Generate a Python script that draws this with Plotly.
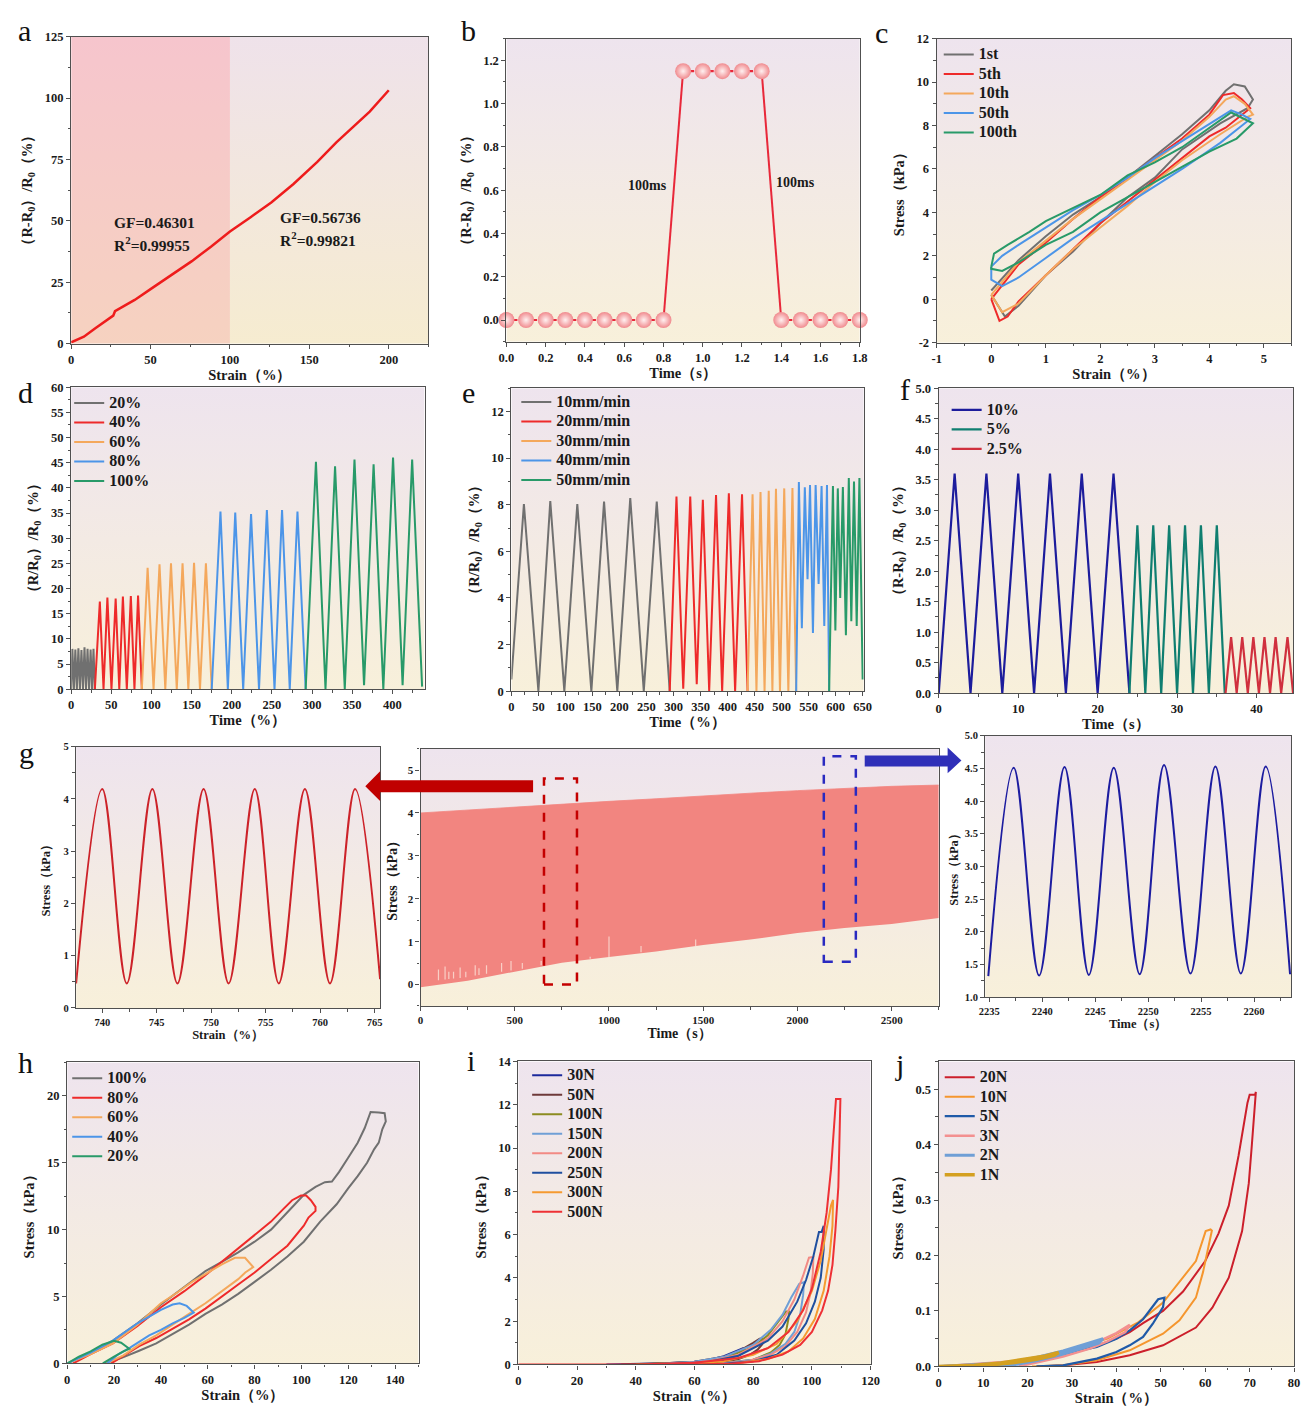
import plotly.graph_objects as go

W, H = 1308, 1413
SERIF = "Liberation Serif"
INK = "#1a1a1a"
FRAME = "#505050"

GRAY, RED, ORANGE, BLUE, GREEN = "#707070", "#ee2a2a", "#f4a85c", "#4c95e8", "#289a69"
TOP_BG, BOT_BG = "#eee4ee", "#f8f0da"

# ---------------- panel a ----------------
a_strain = [0, 3, 8, 15, 22, 26.5, 27.6, 35, 40, 50, 60, 76, 88, 100, 113, 126, 140, 155, 167, 178, 188, 200]
a_resp = [0.5, 1.3, 2.8, 6.2, 9.6, 11.4, 13.2, 16.0, 17.8, 22.2, 26.6, 33.6, 39.5, 45.7, 51.5, 57.5, 65.0, 74.0, 82.0, 88.5, 94.5, 103.2]
a_split = 100

# ---------------- panel b ----------------
b_time = [0.0, 0.1, 0.2, 0.3, 0.4, 0.5, 0.6, 0.7, 0.8, 0.9, 1.0, 1.1, 1.2, 1.3, 1.4, 1.5, 1.6, 1.7, 1.8]
b_resp = [0, 0, 0, 0, 0, 0, 0, 0, 0, 1.15, 1.15, 1.15, 1.15, 1.15, 0, 0, 0, 0, 0]

# ---------------- panel c ----------------
c_names = ["1st", "5th", "10th", "50th", "100th"]
c_xticks = [-1, 0, 1, 2, 3, 4, 5]
c_xlabels = ["-1", "0", "1", "2", "3", "4", "5"]
c_yticks = [-2, 0, 2, 4, 6, 8, 10, 12]
c_ylabels = ["-2", "0", "2", "4", "6", "8", "10", "12"]
c_1st_x = [0, 0.5, 1.0, 1.5, 2.0, 2.5, 3.0, 3.5, 4.0, 4.3, 4.45, 4.65, 4.8, 4.7, 4.2, 3.5, 3.0, 2.5, 2.0, 1.5, 1.0, 0.5, 0.25, 0.0]
c_1st_y = [0.4, 1.8, 2.9, 3.9, 4.7, 5.6, 6.6, 7.6, 8.7, 9.6, 9.9, 9.8, 9.2, 8.8, 8.1, 6.9, 5.6, 4.7, 3.5, 2.2, 1.1, -0.3, -0.8, 0.2]
c_5th_x = [0, 0.5, 1.0, 1.5, 2.0, 2.5, 3.0, 3.5, 4.0, 4.25, 4.45, 4.6, 4.75, 4.65, 4.3, 4.0, 3.5, 3.0, 2.5, 2.0, 1.5, 1.0, 0.5, 0.3, 0.15, 0.0]
c_5th_y = [0.0, 1.6, 2.6, 3.7, 4.7, 5.6, 6.5, 7.4, 8.5, 9.4, 9.5, 9.2, 8.8, 8.6, 7.9, 7.5, 6.5, 5.5, 4.5, 3.5, 2.3, 1.1, -0.1, -0.8, -1.0, 0.0]
c_10th_x = [0, 0.5, 1.0, 1.5, 2.0, 2.5, 3.0, 3.5, 4.0, 4.3, 4.45, 4.65, 4.8, 4.7, 4.2, 3.5, 3.0, 2.5, 2.0, 1.5, 1.0, 0.5, 0.2, 0.0]
c_10th_y = [0.2, 1.7, 2.7, 3.7, 4.6, 5.5, 6.4, 7.3, 8.4, 9.2, 9.35, 9.0, 8.5, 8.4, 7.6, 6.4, 5.4, 4.3, 3.3, 2.3, 1.1, -0.2, -0.6, 0.2]
c_50th_x = [0, 0.2, 0.5, 1.0, 1.5, 2.0, 2.5, 3.0, 3.5, 4.0, 4.4, 4.6, 4.75, 4.6, 4.2, 3.5, 3.0, 2.5, 2.0, 1.5, 1.0, 0.5, 0.2, 0.0, 0.0]
c_50th_y = [1.5, 2.0, 2.5, 3.3, 4.1, 4.8, 5.6, 6.5, 7.3, 8.1, 8.7, 8.5, 8.3, 8.0, 7.2, 6.0, 5.2, 4.4, 3.6, 2.8, 1.9, 1.0, 0.6, 0.9, 1.5]
c_100th_x = [0, 0.05, 0.3, 0.7, 1.0, 1.5, 2.0, 2.5, 3.0, 3.5, 4.0, 4.4, 4.8, 4.5, 4.0, 3.5, 3.0, 2.5, 2.0, 1.5, 1.0, 0.5, 0.2, 0.0, 0.0]
c_100th_y = [1.5, 2.1, 2.5, 3.1, 3.6, 4.2, 4.8, 5.7, 6.3, 7.0, 7.9, 8.6, 8.1, 7.4, 6.8, 6.1, 5.4, 4.7, 4.0, 3.1, 2.5, 1.7, 1.3, 1.4, 1.5]

# ---------------- panel d ----------------
d_names = ["20%", "40%", "60%", "80%", "100%"]
d20_t = [0, 1.5, 3.4, 5.2, 7.1, 9.0, 10.9, 12.8, 14.7, 16.6, 18.5, 20.4, 22.3, 24.2, 26.0, 27.8, 29.5]
d20_v = [0, 8.0, 0, 7.9, 0, 8.1, 0, 7.8, 0, 8.3, 0, 8.0, 0, 7.9, 0, 8.0, 0]
d40_t = [29.5, 35.7, 40.3, 45.1, 50.2, 55.4, 59.9, 64.4, 69.3, 74.3, 78.8, 83.3, 88]
d40_v = [0, 17.4, 0, 18.2, 0, 18.0, 0, 18.4, 0, 18.5, 0, 18.6, 0]
d60_t = [88, 95.2, 102.6, 110, 117.2, 124.3, 131.5, 138.7, 145.9, 153, 160.4, 167.8, 175]
d60_v = [0, 24.1, 0, 24.8, 0, 25.0, 0, 25.0, 0, 25.1, 0, 25.0, 0]
d80_t = [175, 185.9, 195.1, 204.3, 214.2, 224, 233.9, 243.7, 253.2, 262.6, 272.2, 281.8, 292]
d80_v = [0, 35.3, 0, 35.1, 0, 34.8, 0, 35.6, 0, 35.6, 0, 35.3, 0]
d100_t = [292, 304.8, 316.7, 328.6, 340.7, 352.8, 364.7, 376.6, 388.7, 400.8, 412.7, 424.6, 437]
d100_v = [0, 45.2, 0, 44.3, 0, 45.6, 0.8, 44.7, 0, 46.0, 0.8, 45.6, 0.5]

# ---------------- panel e ----------------
e_names = ["10mm/min", "20mm/min", "30mm/min", "40mm/min", "50mm/min"]
e10_t = [0, 23.2, 50, 72, 98, 122, 148, 171.5, 196, 220, 245, 269, 293]
e10_v = [0.5, 8.03, 0, 8.16, 0, 8.03, 0, 8.14, 0, 8.28, 0, 8.14, 0]
e20_t = [293, 305.5, 318, 331, 343, 354.3, 366, 378.7, 390, 402.4, 414, 426.8, 437]
e20_v = [0, 8.35, 0.1, 8.35, 0.3, 8.21, 0, 8.42, 0, 8.49, 0, 8.45, 0]
e30_t = [437, 446.3, 453.5, 461, 468.5, 476.2, 483, 489.6, 497, 504.9, 512.5, 520.1, 527]
e30_v = [0, 8.45, 0, 8.55, 0, 8.6, 0, 8.68, 0, 8.7, 0, 8.72, 0]
e40_t = [527, 532, 537.5, 543, 548, 552.6, 558, 563, 568.5, 574, 579, 584, 588]
e40_v = [0, 8.97, 2.7, 8.75, 4.8, 8.84, 2.5, 8.84, 4.6, 8.8, 2.8, 8.84, 0]
e50_t = [588, 595, 599.5, 604, 608.5, 613.4, 619, 624.4, 629, 634, 639, 644, 650]
e50_v = [0, 8.8, 2.6, 8.7, 4.0, 8.76, 2.4, 9.15, 3.0, 9.0, 2.8, 9.15, 0.5]

# ---------------- panel f ----------------
f_names = ["10%", "5%", "2.5%"]
f10_t = [0, 2, 4, 6, 8, 10, 12, 14, 16, 18, 20, 22, 24]
f10_v = [0, 3.6, 0, 3.6, 0, 3.6, 0, 3.6, 0, 3.6, 0, 3.6, 0]
f5_t = [24, 25, 26, 27, 28, 29, 30, 31, 32, 33, 34, 35, 36]
f5_v = [0, 2.75, 0, 2.75, 0, 2.75, 0, 2.75, 0, 2.75, 0, 2.75, 0]
f25_t = [36.1, 36.8, 37.5, 38.2, 38.9, 39.6, 40.3, 41.0, 41.7, 42.4, 43.1, 43.9, 44.6]
f25_v = [0, 0.92, 0, 0.92, 0, 0.92, 0, 0.92, 0, 0.92, 0, 0.92, 0]

# ---------------- panel g ----------------
gL_strain = [737.6, 740.0, 742.25, 744.6, 746.9, 749.3, 751.6, 754.0, 756.2, 758.6, 760.9, 763.2, 765.5]
gL_stress = [0.47, 4.19, 0.47, 4.19, 0.47, 4.19, 0.47, 4.19, 0.47, 4.19, 0.47, 4.19, 0.55]
gM_time = [0, 250, 500, 750, 1000, 1250, 1500, 1750, 2000, 2250, 2500, 2750]
gM_upper = [4.0, 4.07, 4.14, 4.2, 4.27, 4.33, 4.4, 4.46, 4.52, 4.57, 4.62, 4.65]
gM_lower = [-0.06, 0.09, 0.3, 0.51, 0.64, 0.77, 0.92, 1.05, 1.2, 1.32, 1.41, 1.55]
gM_spike_t = [95, 130, 150, 175, 210, 240, 290, 310, 350, 430, 480, 540, 640, 900, 1000, 1170, 1460]
gM_spike_lo = [0.1, 0.12, 0.13, 0.14, 0.15, 0.17, 0.21, 0.22, 0.25, 0.3, 0.33, 0.37, 0.45, 0.6, 0.64, 0.75, 0.9]
gM_spike_hi = [0.35, 0.42, 0.3, 0.3, 0.4, 0.3, 0.45, 0.38, 0.45, 0.5, 0.55, 0.5, 0.55, 0.65, 1.12, 0.9, 1.05]
gR_time = [2234.9, 2237.3, 2239.7, 2242.1, 2244.4, 2246.75, 2249.2, 2251.5, 2254.0, 2256.35, 2258.75, 2261.1, 2263.4]
gR_stress = [1.32, 4.51, 1.33, 4.52, 1.34, 4.51, 1.35, 4.55, 1.36, 4.53, 1.36, 4.53, 1.35]

# ---------------- panel h ----------------
h_names = ["100%", "80%", "60%", "40%", "20%"]
h100_x = [0, 10, 19.5, 30, 40, 50, 59, 66, 73, 80, 87, 94, 101, 106, 110, 113, 116, 120, 124, 127, 129.5, 133, 135.5, 136, 134.5, 133, 131, 128, 124, 120, 115, 108, 101, 94, 87, 80, 73, 66, 59, 52, 45, 38, 30.7, 23, 16]
h100_y = [0, 0.8, 1.7, 3.0, 4.4, 5.7, 6.9, 7.6, 8.3, 9.1, 10.0, 11.3, 12.6, 13.2, 13.55, 13.6, 14.3, 15.4, 16.5, 17.6, 18.8, 18.75, 18.7, 18.1, 17.5, 16.5, 16.0, 15.0, 14.0, 13.1, 11.9, 10.6, 9.1, 8.0, 7.0, 6.1, 5.2, 4.4, 3.7, 2.9, 2.2, 1.5, 0.95, 0.4, 0]
h80_x = [2.5, 10, 19.5, 30, 40, 50, 59, 66, 73, 80, 87, 92, 96, 99.8, 102, 104, 106, 106, 103, 101, 94, 87, 80, 73, 66, 59, 52, 45, 38, 30.7, 25, 18.8]
h80_y = [0, 0.7, 1.5, 2.8, 4.2, 5.4, 6.6, 7.6, 8.6, 9.6, 10.6, 11.5, 12.2, 12.55, 12.55, 12.2, 11.7, 11.4, 10.9, 10.3, 8.8, 7.8, 6.8, 5.9, 5.0, 4.1, 3.3, 2.6, 1.9, 1.3, 0.7, 0]
h60_x = [0, 10, 19.5, 30, 40, 47, 53.3, 60, 66, 71.6, 75.9, 79.4, 76, 73, 66, 59, 52, 45, 38, 30.7, 24, 16.6]
h60_y = [0, 0.7, 1.5, 2.9, 4.5, 5.3, 6.1, 6.8, 7.4, 7.9, 7.9, 7.2, 6.8, 6.3, 5.4, 4.5, 3.7, 2.9, 2.1, 1.4, 0.6, 0]
h40_x = [0, 10, 19.5, 30, 40, 45, 48, 51, 54, 50, 45, 40, 35, 30, 27, 22, 17]
h40_y = [0, 0.8, 1.7, 3.0, 4.0, 4.4, 4.5, 4.3, 3.8, 3.4, 3.0, 2.5, 2.1, 1.5, 1.2, 0.7, 0]
h20_x = [0, 5, 10, 15, 20, 23, 26.5, 24, 20, 15.2]
h20_y = [0, 0.5, 0.9, 1.4, 1.7, 1.55, 1.1, 0.9, 0.5, 0]

# ---------------- panel i ----------------
i_names = ["30N", "50N", "100N", "150N", "200N", "250N", "300N", "500N"]
i30_x = [30, 40, 50, 60, 65, 70, 73, 75.5, 76.5, 77, 75.5, 73, 70, 65, 60, 50, 40]
i30_y = [0, 0.02, 0.05, 0.12, 0.2, 0.38, 0.55, 0.72, 0.75, 0.62, 0.45, 0.3, 0.18, 0.09, 0.05, 0.01, 0]
i50_x = [35, 50, 60, 70, 75, 78, 80, 82.2, 83.2, 83.5, 81.5, 79, 75, 70, 60, 50]
i50_y = [0, 0.05, 0.12, 0.35, 0.6, 0.82, 1.0, 1.19, 1.2, 1.0, 0.68, 0.45, 0.25, 0.12, 0.04, 0]
i100_x = [40, 60, 70, 80, 85, 88, 90, 91.2, 92.2, 92, 91, 89, 86, 80, 70, 60]
i100_y = [0, 0.1, 0.3, 0.8, 1.35, 1.9, 2.25, 2.45, 2.45, 2.1, 1.4, 0.9, 0.55, 0.22, 0.06, 0]
i150_x = [45, 60, 70, 80, 86, 90, 93, 95.7, 97.3, 97, 96, 94, 91, 86, 80, 70]
i150_y = [0, 0.12, 0.35, 0.9, 1.6, 2.3, 3.1, 3.72, 3.8, 3.2, 2.3, 1.5, 0.95, 0.5, 0.22, 0.05]
i200_x = [50, 65, 75, 85, 90, 94, 97, 99, 100.5, 100.3, 99.5, 98, 95, 91, 86, 78, 68]
i200_y = [0, 0.15, 0.45, 1.2, 2.0, 3.0, 4.1, 4.93, 4.97, 4.2, 3.3, 2.4, 1.5, 0.85, 0.45, 0.15, 0.03]
i250_x = [50, 65, 75, 85, 90, 95, 98, 100.5, 102.4, 103.3, 104, 104, 103, 101, 98, 94, 88, 80, 70]
i250_y = [0, 0.12, 0.4, 1.1, 1.75, 2.9, 3.9, 5.0, 6.12, 6.12, 6.4, 5.3, 4.0, 2.9, 1.9, 1.1, 0.45, 0.15, 0.03]
i300_x = [55, 70, 80, 88, 95, 100, 103, 105, 106.5, 107.2, 107, 106, 104, 101, 97, 92, 85, 75]
i300_y = [0, 0.15, 0.45, 0.95, 2.0, 3.4, 4.8, 6.2, 7.34, 7.6, 6.4, 5.0, 3.4, 2.1, 1.2, 0.6, 0.25, 0.05]
i500_x = [0, 40, 60, 75, 85, 92, 97, 100, 103, 105, 106.5, 107.5, 108.2, 109.7, 109.5, 109, 108, 107, 105.5, 103.5, 100, 96, 90, 82, 72, 60]
i500_y = [0, 0, 0.08, 0.3, 0.75, 1.5, 2.5, 3.5, 5.2, 7.0, 9.0, 10.8, 12.27, 12.27, 10.5, 8.2, 6.2, 4.6, 3.4, 2.5, 1.5, 0.9, 0.45, 0.15, 0.03, 0]

# ---------------- panel j ----------------
j_names = ["20N", "10N", "5N", "3N", "2N", "1N"]
j20_x = [0, 10, 20, 30, 35.6, 40, 43, 46, 50.5, 55, 60, 63, 65.3, 67.5, 69.5, 70, 71.2, 71.4, 70.5, 69.8, 68.3, 65.3, 61.6, 57.9, 50.5, 43, 35.6, 28.2, 22.3]
j20_y = [0, 0.003, 0.012, 0.026, 0.038, 0.05, 0.062, 0.078, 0.1, 0.135, 0.19, 0.24, 0.29, 0.38, 0.475, 0.49, 0.49, 0.495, 0.4, 0.33, 0.244, 0.16, 0.106, 0.07, 0.038, 0.02, 0.008, 0.002, 0]
j10_x = [0, 10, 20, 30, 38, 45, 50.5, 55, 57.9, 60.1, 61.2, 61.5, 60.5, 59.5, 57.9, 54.2, 50.5, 43, 35.6, 28, 21]
j10_y = [0, 0.003, 0.012, 0.03, 0.05, 0.08, 0.115, 0.16, 0.19, 0.244, 0.247, 0.245, 0.208, 0.17, 0.124, 0.083, 0.059, 0.029, 0.011, 0.002, 0]
j5_x = [0, 10, 20, 28, 35.6, 40, 43, 46, 49.4, 50.8, 50.5, 48.2, 46, 43, 40, 35.6, 28, 22]
j5_y = [0, 0.003, 0.011, 0.022, 0.035, 0.05, 0.065, 0.085, 0.121, 0.124, 0.107, 0.077, 0.053, 0.038, 0.026, 0.014, 0.002, 0]
j3_x = [0, 20, 30, 36, 40, 43, 42, 38, 34, 28, 22, 18]
j3_y = [0, 0.011, 0.028, 0.045, 0.06, 0.075, 0.062, 0.045, 0.032, 0.018, 0.007, 0]
j2_x = [0, 15, 22, 28, 33, 37, 36, 32, 27, 22, 17, 12]
j2_y = [0, 0.006, 0.016, 0.028, 0.04, 0.05, 0.042, 0.032, 0.02, 0.01, 0.003, 0]
j1_x = [0, 8, 14, 20, 24, 27, 26, 22, 17, 12, 6]
j1_y = [0, 0.002, 0.006, 0.013, 0.019, 0.025, 0.02, 0.013, 0.007, 0.003, 0]

# =============================================================
fig = go.Figure()
LEG_TEXT = 16   # visible size of legend labels


def sfx(n):
    return "" if n == 1 else str(n)


def clamp(v):
    return min(1.0, max(0.0, v))


def px2dom(x0, x1, y0, y1):
    return [clamp(x0 / W), clamp(x1 / W)], [clamp(1 - y1 / H), clamp(1 - y0 / H)]


def P(x, y):
    return x / W, 1 - y / H


def add_axes(n, box, xr, yr, xdt, ydt, xtitle, ytitle, xfmt="", yfmt="",
             tfs=12.5, ttfs=14.5, xstand=0, ystand=6, xtick0=0, ytick0=0, xextra=None, yextra=None):
    xd, yd = px2dom(*box)
    s = sfx(n)
    tickfont = dict(family=SERIF, size=tfs, color=INK, weight="bold")
    titlefont = dict(family=SERIF, size=ttfs, color=INK, weight="bold")
    base = dict(showline=True, mirror=True, linecolor=FRAME, linewidth=1.3,
                ticks="outside", ticklen=4, tickwidth=1.1, tickcolor=FRAME,
                showgrid=False, zeroline=False, tickfont=tickfont, fixedrange=True)
    xa = dict(base, domain=xd, range=xr, dtick=xdt, tick0=xtick0, tickformat=xfmt,
              anchor="y" + s,
              minor=dict(ticks="outside", ticklen=2.5, tickcolor=FRAME, dtick=xdt / 2,
                         tick0=xtick0, showgrid=False),
              title=dict(text=xtitle, font=titlefont, standoff=xstand))
    ya = dict(base, domain=yd, range=yr, dtick=ydt, tick0=ytick0, tickformat=yfmt,
              anchor="x" + s,
              minor=dict(ticks="outside", ticklen=2.5, tickcolor=FRAME, dtick=ydt / 2,
                         tick0=ytick0, showgrid=False),
              title=dict(text=ytitle, font=titlefont, standoff=ystand))
    if xextra:
        xa.update(xextra)
    if yextra:
        ya.update(yextra)
    fig.update_layout(**{"xaxis" + s: xa, "yaxis" + s: ya})


def add_bg(n, xr, yr, top=TOP_BG, bottom=BOT_BG):
    s = sfx(n)
    fig.add_trace(go.Scatter(
        x=[xr[0], xr[1], xr[1], xr[0], xr[0]], y=[yr[0], yr[0], yr[1], yr[1], yr[0]],
        mode="lines", line=dict(width=0), fill="toself", fillcolor=bottom,
        fillgradient=dict(type="vertical", colorscale=[[0, bottom], [1, top]], start=yr[0], stop=yr[1]),
        hoverinfo="skip", showlegend=False, xaxis="x" + s, yaxis="y" + s))


def line(n, x, y, color, name=None, legend=None, width=2, dash="solid", shape="linear"):
    s = sfx(n)
    label = None if name is None else f'<span style="font-size:{LEG_TEXT}px">{name}</span>'
    fig.add_trace(go.Scatter(
        x=x, y=y, mode="lines", name=label, line=dict(color=color, width=width, dash=dash, shape=shape),
        showlegend=name is not None, legend=legend, xaxis="x" + s, yaxis="y" + s, hoverinfo="skip"))


def legend_cfg(xpx, ypx):
    x, y = P(xpx, ypx)
    return dict(x=x, y=y, xanchor="left", yanchor="top", bgcolor="rgba(0,0,0,0)",
                borderwidth=0, font=dict(family=SERIF, size=12.7, color=INK, weight="bold"),
                tracegroupgap=0, itemwidth=30, traceorder="normal")


Y_RR = "（R-R<sub>0</sub>）/R<sub>0</sub>（%）"
Y_RD = "（R/R<sub>0</sub>）/R<sub>0</sub>（%）"
Y_ST = "Stress（kPa）"

# ---------------- axes ----------------
A_X, A_Y = [0, 225], [0, 125]
add_axes(1, (64, 426, 30, 340), A_X, A_Y, 50, 25, "Strain（%）", Y_RR, ystand=8)
B_X, B_Y = [0, 1.8], [-0.1, 1.3]
add_axes(2, (505, 863, 32, 338), B_X, B_Y, 0.2, 0.2, "Time（s）", Y_RR, xfmt=".1f", yfmt=".1f", ystand=8)
C_X, C_Y = [-1, 5.5], [-2, 12]
add_axes(3, (941, 1300, 32, 339), C_X, C_Y, 1, 2, "Strain（%）", Y_ST, xtick0=-1, ytick0=-2, ystand=8,
         xextra=dict(tickvals=c_xticks, ticktext=c_xlabels),
         yextra=dict(tickvals=c_yticks, ticktext=c_ylabels))
D_X, D_Y = [0, 440], [0, 60]
add_axes(4, (64, 422, 384, 689), D_X, D_Y, 50, 5, "Time（%）", Y_RD, ystand=8)
E_X, E_Y = [0, 652], [0, 13]
add_axes(5, (510, 867, 385, 691), E_X, E_Y, 50, 2, "Time（%）", Y_RD, ystand=8)
F_X, F_Y = [0, 44.6], [0, 5]
add_axes(6, (943, 1302, 385, 693), F_X, F_Y, 10, 0.5, "Time（s）", Y_RR, yfmt=".1f", ystand=8)
GL_X, GL_Y = [737.6, 765.5], [0, 5]
add_axes(7, (69, 377, 747, 1011), GL_X, GL_Y, 5, 1, "Strain（%）", Y_ST, tfs=10.5, ttfs=12.5, ystand=10)
GM_X, GM_Y = [0, 2750], [-0.5, 5.5]
add_axes(8, (418, 943, 749, 1009), GM_X, GM_Y, 500, 1, "Time（s）", Y_ST, tfs=11, ttfs=14, ystand=6)
GR_X, GR_Y = [2234.6, 2263.5], [1.0, 5.0]
add_axes(9, (990, 1300, 736, 1000), GR_X, GR_Y, 5, 0.5, "Time（s）", Y_ST, yfmt=".1f", tfs=10.5, ttfs=12.5, ystand=3)
H_X, H_Y = [0, 150], [0, 22.5]
add_axes(10, (60, 416, 1066, 1370), H_X, H_Y, 20, 5, "Strain（%）", Y_ST, ystand=8)
I_X, I_Y = [0, 120], [0, 14]
add_axes(11, (517, 874, 1065, 1371), I_X, I_Y, 20, 2, "Strain（%）", Y_ST, ystand=8)
J_X, J_Y = [0, 80], [0, 0.55]
add_axes(12, (943, 1303, 1065, 1373), J_X, J_Y, 10, 0.1, "Strain（%）", Y_ST, yfmt=".1f", ystand=8)

# ---------------- backgrounds ----------------
add_bg(1, [A_X[0], a_split], A_Y, top="#f6c5cd", bottom="#f6d2c0")
add_bg(1, [a_split, A_X[1]], A_Y, top="#efe2ea", bottom="#f6ecd0")
for n, xr, yr in [(2, B_X, B_Y), (3, C_X, C_Y), (4, D_X, D_Y), (5, E_X, E_Y), (6, F_X, F_Y),
                  (7, GL_X, GL_Y), (8, GM_X, GM_Y), (9, GR_X, GR_Y), (10, H_X, H_Y),
                  (11, I_X, I_Y), (12, J_X, J_Y)]:
    add_bg(n, xr, yr)

# ---------------- panel a ----------------
line(1, a_strain, a_resp, "#ee1c1c", width=2.5)

# ---------------- panel b ----------------
dx, dy, sx, sy = [], [], [], []
for k in range(len(b_time) - 1):
    seg_x = [b_time[k], b_time[k + 1], None]
    seg_y = [b_resp[k], b_resp[k + 1], None]
    if b_resp[k] == b_resp[k + 1]:
        dx += seg_x; dy += seg_y
    else:
        sx += seg_x; sy += seg_y
line(2, sx, sy, "#e8283a", width=2)
line(2, dx, dy, "#e8283a", width=2.2, dash="4px,3px")
fig.add_trace(go.Scatter(x=b_time, y=b_resp, mode="markers", cliponaxis=False,
                         marker=dict(size=16, color="#f08a8e", line=dict(width=0),
                                     gradient=dict(type="radial", color="#fff0f0")),
                         showlegend=False, xaxis="x2", yaxis="y2", hoverinfo="skip"))

# ---------------- panel c ----------------
for nm, x, y, col in zip(c_names, [c_1st_x, c_5th_x, c_10th_x, c_50th_x, c_100th_x],
                         [c_1st_y, c_5th_y, c_10th_y, c_50th_y, c_100th_y],
                         [GRAY, RED, ORANGE, BLUE, GREEN]):
    line(3, x, y, col, name=nm, legend="legend")

# ---------------- panel d ----------------
for nm, x, y, col in zip(d_names, [d20_t, d40_t, d60_t, d80_t, d100_t],
                         [d20_v, d40_v, d60_v, d80_v, d100_v], [GRAY, RED, ORANGE, BLUE, GREEN]):
    line(4, x, y, col, name=nm, legend="legend2")

# ---------------- panel e ----------------
for nm, x, y, col in zip(e_names, [e10_t, e20_t, e30_t, e40_t, e50_t],
                         [e10_v, e20_v, e30_v, e40_v, e50_v], [GRAY, RED, ORANGE, BLUE, GREEN]):
    line(5, x, y, col, name=nm, legend="legend3")

# ---------------- panel f ----------------
for nm, x, y, col in zip(f_names, [f10_t, f5_t, f25_t], [f10_v, f5_v, f25_v],
                         ["#1c1c9c", "#0f7e70", "#d0303e"]):
    line(6, x, y, col, name=nm, legend="legend4", width=2.2)

# ---------------- panel g ----------------
line(7, gL_strain, gL_stress, "#cc2229", width=2, shape="spline")
fig.add_trace(go.Scatter(x=gM_time, y=gM_lower, mode="lines", line=dict(width=0, color="#f28580"),
                         showlegend=False, xaxis="x8", yaxis="y8", hoverinfo="skip"))
fig.add_trace(go.Scatter(x=gM_time, y=gM_upper, mode="lines", line=dict(width=0.8, color="#f28580"),
                         fill="tonexty", fillcolor="#f28580",
                         showlegend=False, xaxis="x8", yaxis="y8", hoverinfo="skip"))
spx, spy = [], []
for t, lo, hi in zip(gM_spike_t, gM_spike_lo, gM_spike_hi):
    spx += [t, t, None]; spy += [lo, hi, None]
line(8, spx, spy, "#f9cfc6", width=1.2)
line(9, gR_time, gR_stress, "#1c1ca0", width=2, shape="spline")

# dashed selection boxes
fig.add_shape(type="rect", xref="x8", yref="y8", x0=655, x1=830, y0=0.0, y1=4.8,
              line=dict(color="#c40000", width=2.5, dash="dash"))
fig.add_shape(type="rect", xref="x8", yref="y8", x0=2140, x1=2310, y0=0.53, y1=5.32,
              line=dict(color="#2a2ac0", width=2.5, dash="dash"))


def arrow_path(pts):
    out = []
    for k, (x, y) in enumerate(pts):
        px, py = P(x, y)
        out.append(("M" if k == 0 else "L") + f"{px:.5f},{py:.5f}")
    return " ".join(out) + " Z"


fig.add_shape(type="path", xref="paper", yref="paper", line=dict(width=0), fillcolor="#c00000",
              path=arrow_path([(532, 781), (377, 781), (377, 772), (362, 787), (377, 802), (377, 793), (532, 793)]))
fig.add_shape(type="path", xref="paper", yref="paper", line=dict(width=0), fillcolor="#2f2fb8",
              path=arrow_path([(868, 756), (952, 756), (952, 748), (966, 761), (952, 774), (952, 767), (868, 767)]))

# ---------------- panel h ----------------
for nm, x, y, col in zip(h_names, [h100_x, h80_x, h60_x, h40_x, h20_x],
                         [h100_y, h80_y, h60_y, h40_y, h20_y], [GRAY, RED, ORANGE, BLUE, GREEN]):
    line(10, x, y, col, name=nm, legend="legend5")

# ---------------- panel i ----------------
for nm, x, y, col in zip(i_names, [i30_x, i50_x, i100_x, i150_x, i200_x, i250_x, i300_x, i500_x],
                         [i30_y, i50_y, i100_y, i150_y, i200_y, i250_y, i300_y, i500_y],
                         ["#1c2a9c", "#6e3a3a", "#8c8c20", "#6f9fd6", "#f28a84", "#1f4f9f", "#f59a30", "#ee3035"]):
    line(11, x, y, col, name=nm, legend="legend6")

# ---------------- panel j ----------------
for nm, x, y, col, w in zip(j_names, [j20_x, j10_x, j5_x, j3_x, j2_x, j1_x],
                            [j20_y, j10_y, j5_y, j3_y, j2_y, j1_y],
                            ["#cc1f2b", "#f5962e", "#1f5aa8", "#f39090", "#6f9fd6", "#d4a020"],
                            [2, 2, 2.2, 2.5, 3, 3.5]):
    line(12, x, y, col, name=nm, legend="legend7", width=w)

# ---------------- legends ----------------
fig.update_layout(
    legend=legend_cfg(943, 33),
    legend2=legend_cfg(62, 385),
    legend3=legend_cfg(515, 384),
    legend4=legend_cfg(951, 392),
    legend5=legend_cfg(60, 1067),
    legend6=legend_cfg(526, 1064),
    legend7=legend_cfg(944, 1066),
)

# ---------------- annotations ----------------
ann = []
af = dict(family=SERIF, size=15.5, color=INK, weight="bold")
ann.append(dict(x=25.5, y=49.5, xref="x", yref="y", text="GF=0.46301", showarrow=False, xanchor="left", font=af))
ann.append(dict(x=25.5, y=40.5, xref="x", yref="y", text="R<sup>2</sup>=0.99955", showarrow=False, xanchor="left", font=af))
ann.append(dict(x=130, y=51.5, xref="x", yref="y", text="GF=0.56736", showarrow=False, xanchor="left", font=af))
ann.append(dict(x=130, y=42.5, xref="x", yref="y", text="R<sup>2</sup>=0.99821", showarrow=False, xanchor="left", font=af))
bf = dict(family=SERIF, size=14, color=INK, weight="bold")
ann.append(dict(x=0.72, y=0.62, xref="x2", yref="y2", text="100ms", showarrow=False, font=bf))
ann.append(dict(x=1.47, y=0.635, xref="x2", yref="y2", text="100ms", showarrow=False, font=bf))
for letter, (lx, ly) in zip("abcdefghij", [(17, 24), (467, 24), (885, 26), (18, 389), (467, 389),
                                            (909, 386), (19, 753), (18, 1066), (469, 1064), (903, 1068)]):
    x, y = P(lx, ly)
    ann.append(dict(x=x, y=y, xref="paper", yref="paper", text=letter, showarrow=False,
                    xanchor="center", yanchor="middle",
                    font=dict(family=SERIF, size=30, color="#111")))
fig.update_layout(annotations=ann)

fig.update_layout(width=W, height=H, margin=dict(l=0, r=0, t=0, b=0),
                  paper_bgcolor="white", plot_bgcolor="rgba(0,0,0,0)",
                  hovermode=False, font=dict(family=SERIF, color=INK))

fig.write_html("out.html")
